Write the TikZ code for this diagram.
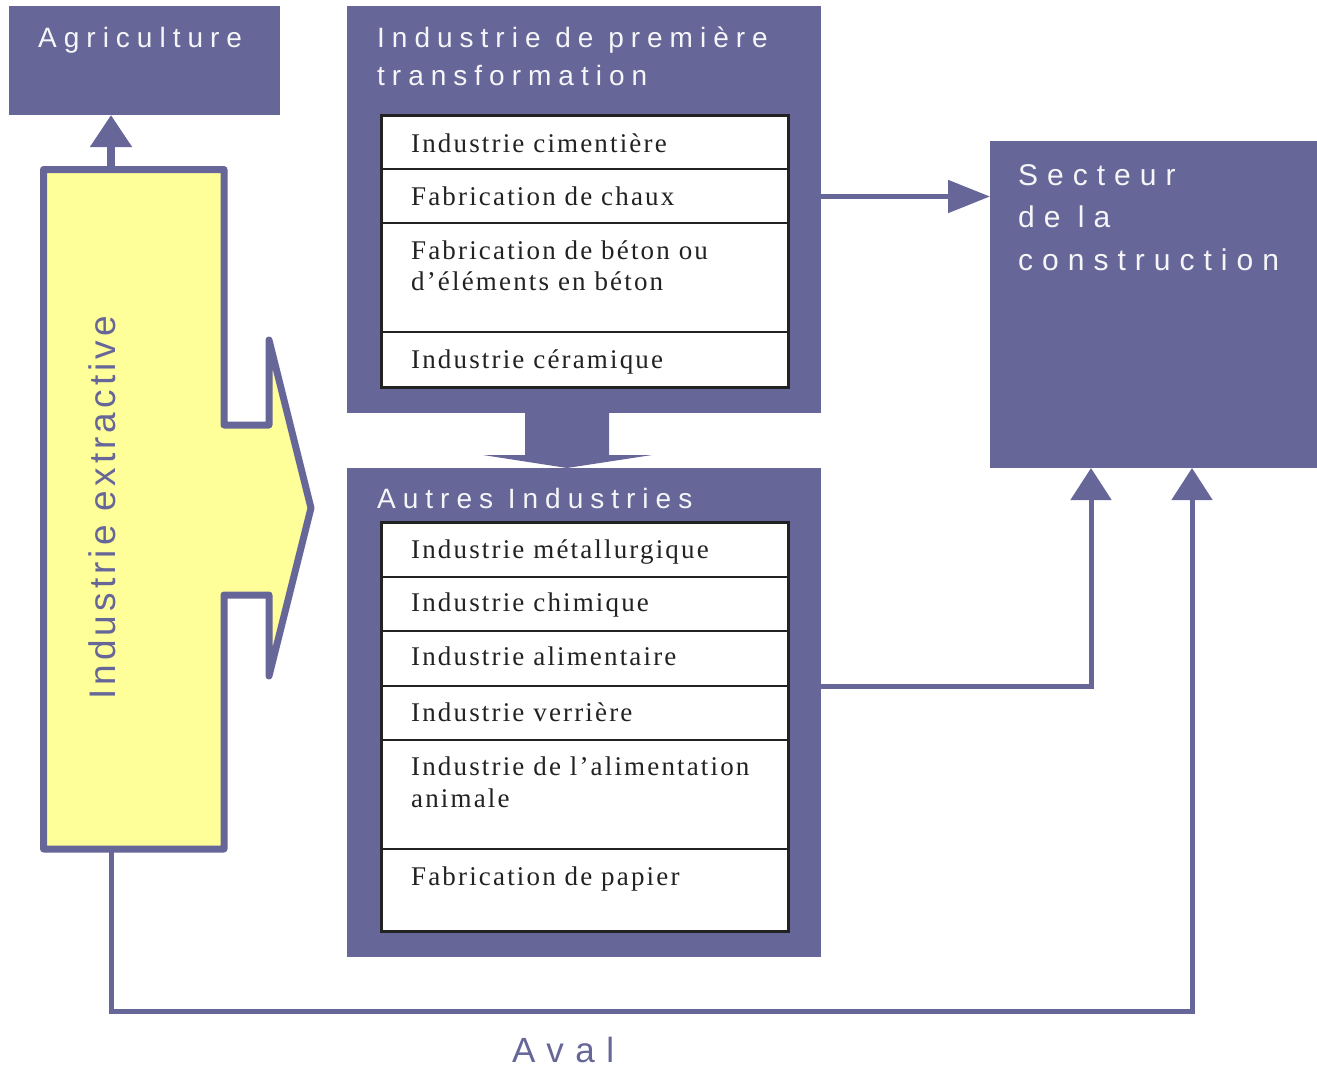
\documentclass[tikz,border=0pt]{standalone}
\usepackage{fontspec}
\setmainfont{Liberation Serif}
\newfontfamily\headfont[LetterSpace=25]{Liberation Sans}
\newfontfamily\bigheadfont[LetterSpace=30]{Liberation Sans}
\newfontfamily\sidefont[LetterSpace=11]{Liberation Sans}
\newfontfamily\avalfont[LetterSpace=33]{Liberation Sans}
\newfontfamily\rowfont[LetterSpace=8]{Liberation Serif}
\usetikzlibrary{arrows.meta, positioning}

\definecolor{lilac}{HTML}{666699}
\definecolor{pale}{HTML}{FFFF99}
\definecolor{ink}{HTML}{222222}

\tikzset{
  panel/.style={fill=lilac, anchor=north west, inner sep=0pt, outer sep=0pt},
  paneltitle/.style={anchor=base west, inner sep=0pt, align=left, text=white!94!lilac, font=\headfont\fontsize{28}{38}\selectfont},
  itemrow/.style={draw=ink, line width=2pt, fill=white, minimum width=407pt, inner sep=0pt, outer sep=0pt},
  itemtext/.style={anchor=base west, inner sep=0pt, align=left, text=ink, font=\rowfont\fontsize{27}{31.5}\selectfont},
  flow/.style={draw=lilac, line width=5pt},
  bighead/.style={-{Triangle[width=40pt, length=32pt]}},
}

\begin{document}
\begin{tikzpicture}[x=1pt, y=-1pt]
\useasboundingbox (0,0) rectangle (1317,1066);

% blocs
\node[panel, minimum width=271pt, minimum height=109pt] (agri) at (9,6) {};
\node[panel, minimum width=474pt, minimum height=407pt] (prem) at (347,6) {};
\node[panel, minimum width=474pt, minimum height=489pt] (autres) at (347,468) {};
\node[panel, minimum width=327pt, minimum height=327pt] (secteur) at (990,141) {};

% titres (base = derniere ligne)
\node[paneltitle] (agri-t) at (38,47) {Agriculture};
\node[paneltitle] (prem-t) at (377,85) {Industrie de première\\transformation};
\node[paneltitle] (autres-t) at (377,508) {Autres Industries};
\node[paneltitle, font=\bigheadfont\fontsize{30}{42.5}\selectfont] (secteur-t) at (1018,270) {Secteur\\de la\\construction};

% premiere transformation
\node[itemrow, anchor=north west, minimum height=54pt] (cim) at (381,115) {};
\node[itemrow, minimum height=54pt, below=0pt of cim] (chaux) {};
\node[itemrow, minimum height=109pt, below=0pt of chaux] (beton) {};
\node[itemrow, minimum height=55pt, below=0pt of beton] (ceram) {};
\draw[ink, line width=3pt] (cim.north west) rectangle (ceram.south east);

\node[itemtext] (cim-t) at ([xshift=30pt, yshift=-37pt]cim.north west) {Industrie cimentière};
\node[itemtext] (chaux-t) at ([xshift=30pt, yshift=-36pt]chaux.north west) {Fabrication de chaux};
\node[itemtext] (beton-t) at ([xshift=30pt, yshift=-67.5pt]beton.north west) {Fabrication de béton ou\\d’éléments en béton};
\node[itemtext] (ceram-t) at ([xshift=30pt, yshift=-36pt]ceram.north west) {Industrie céramique};

% autres industries
\node[itemrow, anchor=north west, minimum height=55pt] (metal) at (381,522) {};
\node[itemrow, minimum height=54pt, below=0pt of metal] (chim) {};
\node[itemrow, minimum height=55pt, below=0pt of chim] (alim) {};
\node[itemrow, minimum height=54pt, below=0pt of alim] (verre) {};
\node[itemrow, minimum height=109pt, below=0pt of verre] (animal) {};
\node[itemrow, minimum height=82pt, below=0pt of animal] (papier) {};
\draw[ink, line width=3pt] (metal.north west) rectangle (papier.south east);

\node[itemtext] (metal-t) at ([xshift=30pt, yshift=-36pt]metal.north west) {Industrie métallurgique};
\node[itemtext] (chim-t) at ([xshift=30pt, yshift=-34pt]chim.north west) {Industrie chimique};
\node[itemtext] (alim-t) at ([xshift=30pt, yshift=-34pt]alim.north west) {Industrie alimentaire};
\node[itemtext] (verre-t) at ([xshift=30pt, yshift=-35pt]verre.north west) {Industrie verrière};
\node[itemtext] (animal-t) at ([xshift=30pt, yshift=-67pt]animal.north west) {Industrie de l’alimentation\\animale};
\node[itemtext] (papier-t) at ([xshift=30pt, yshift=-36pt]papier.north west) {Fabrication de papier};

% industrie extractive
\coordinate (ext-top) at (111,166);
\coordinate (ext-bot) at (111,852);
\coordinate (aval-r) at (1192,1011.5);
\draw[flow, line width=8pt, bighead] (ext-top) -- (ext-top |- agri.south);
\draw[lilac, line width=7pt, fill=pale, line join=round] (43.5,169.5) -- (224,169.5) -- (224,425) -- (269,425) -- (269,340) -- (311,508) -- (269,676) -- (269,595) -- (224,595) -- (224,849) -- (43.5,849) -- cycle;
\node[rotate=90, anchor=base west, inner sep=0pt, text=lilac, font=\sidefont\fontsize{37}{40}\selectfont] (ext-t) at (115,700) {Industrie extractive};

% fleches
\fill[lilac] ([xshift=-59pt]prem.south) -- ++(84,0) -- ++(0,42) -- ++(43,0) -- ([xshift=-17pt]autres.north) -- ++(-84,-13) -- ++(42,0) -- cycle;
\draw[flow, -{Triangle[width=32pt, length=42pt]}] ([yshift=13pt]prem.east) -- ([yshift=13pt]prem.east -| secteur.west);
\draw[flow, bighead] ([yshift=26.5pt]autres.east) -| ([xshift=-62.5pt]secteur.south);
\draw[flow, bighead] (ext-bot) |- (aval-r) -- (aval-r |- secteur.south);

\node[anchor=base west, inner sep=0pt, text=lilac, font=\avalfont\fontsize{35}{40}\selectfont] (aval) at (512,1062) {Aval};

\end{tikzpicture}
\end{document}
